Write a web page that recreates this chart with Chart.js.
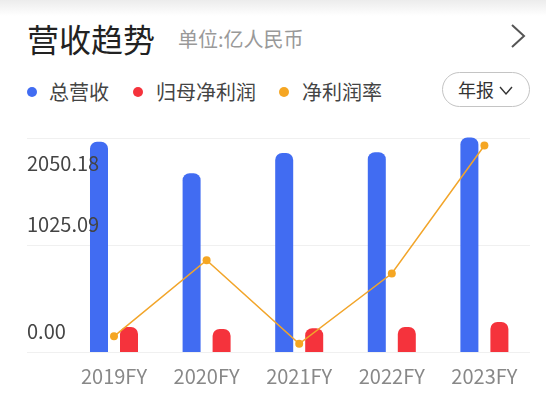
<!DOCTYPE html>
<html>
<head>
<meta charset="utf-8">
<script src="https://cdn.jsdelivr.net/npm/chart.js@4/dist/chart.umd.min.js"></script>
<style>
  html, body { margin:0; padding:0; background:#fff; }
  body { width:546px; height:415px; position:relative; overflow:hidden;
         font-family:"Noto Sans CJK SC","Noto Sans",sans-serif; }
  .topshade { position:absolute; left:0; top:0; width:546px; height:16px;
              background:linear-gradient(#ececec, #ffffff); }
  .title { position:absolute; left:27px; top:16px; font-size:32px; line-height:44px; color:#222; }
  .unit { position:absolute; left:178px; top:25px; font-size:20px; line-height:28px; color:#999; }
  .arrow { position:absolute; left:508px; top:22px; }
  .legend { position:absolute; top:78px; left:0; height:28px; }
  .li { position:absolute; top:0; font-size:20px; line-height:28px; color:#444; white-space:nowrap; }
  .dot { position:absolute; width:10px; height:10px; border-radius:5px; top:9px; }
  .pill { position:absolute; left:442px; top:72px; width:86px; height:33px; border:1px solid #c4c4c4;
          border-radius:18px; box-sizing:content-box; }
  .pill span { position:absolute; left:15px; top:2px; font-size:18px; line-height:29px; color:#333; }
  .pill svg { position:absolute; left:55px; top:12px; }
  canvas { position:absolute; left:0; top:0; }
</style>
</head>
<body>
<div class="topshade"></div>
<div class="title">营收趋势</div>
<div class="unit">单位:亿人民币</div>
<svg class="arrow" width="20" height="30" viewBox="0 0 20 30"><polyline points="4,3 16,14 4,25" fill="none" stroke="#555" stroke-width="2"/></svg>
<div class="legend">
  <div class="dot" style="left:27px;background:#416CF2"></div>
  <div class="li" style="left:49px">总营收</div>
  <div class="dot" style="left:133px;background:#F5333C"></div>
  <div class="li" style="left:156px">归母净利润</div>
  <div class="dot" style="left:279px;background:#F5A623"></div>
  <div class="li" style="left:302px">净利润率</div>
</div>
<div class="pill"><span>年报</span><svg width="16" height="12" viewBox="0 0 16 12"><polyline points="2,2 8,9 14,2" fill="none" stroke="#333" stroke-width="1.4"/></svg></div>
<canvas id="c" width="546" height="415"></canvas>
<script>
const categories = ['2019FY', '2020FY', '2021FY', '2022FY', '2023FY'];
const revenue = [2014.7, 1712.0, 1906.0, 1913.0, 2056.0];
const netProfit = [239.5, 220.0, 227.0, 240.0, 287.0];
const netMargin = [11.69, 12.61, 11.60, 12.45, 14.00];
const yTicks = [0, 1025.09, 2050.18];
const yTickLabels = ['0.00', '1025.09', '2050.18'];

const GRID_LEFT = 27, GRID_RIGHT = 530;

const axisPlugin = {
  id: 'axisPlugin',
  beforeDatasetsDraw(chart) {
    const ctx = chart.ctx, y = chart.scales.y;
    ctx.save();
    ctx.strokeStyle = '#F0F0F0';
    ctx.lineWidth = 1;
    yTicks.forEach(v => {
      const py = Math.round(y.getPixelForValue(v)) + 0.5;
      ctx.beginPath(); ctx.moveTo(GRID_LEFT, py); ctx.lineTo(GRID_RIGHT, py); ctx.stroke();
    });
    ctx.restore();
  },
  afterDatasetsDraw(chart) {
    const ctx = chart.ctx, x = chart.scales.x, y = chart.scales.y;
    ctx.save();
    ctx.font = '20px "Noto Sans CJK SC"';
    ctx.textBaseline = 'middle';
    ctx.fillStyle = '#444';
    ctx.textAlign = 'left';
    yTicks.forEach((v, i) => {
      const py = y.getPixelForValue(v);
      const isTop = i === yTicks.length - 1;
      ctx.fillText(yTickLabels[i], GRID_LEFT, isTop ? py + 25 : py - 21);
    });
    ctx.fillStyle = '#888';
    ctx.textAlign = 'center';
    categories.forEach((c, i) => {
      ctx.fillText(c, x.getPixelForValue(i), chart.chartArea.bottom + 24);
    });
    ctx.restore();
  }
};

new Chart(document.getElementById('c'), {
  data: {
    labels: categories,
    datasets: [
      { type: 'line', label: '净利润率', data: netMargin, yAxisID: 'y2', order: 0,
        borderColor: '#F2A52A', borderWidth: 1.5, pointRadius: 4, pointBackgroundColor: '#F5A623',
        pointBorderWidth: 0, tension: 0, clip: false },
      { type: 'bar', label: '总营收', data: revenue, yAxisID: 'y', order: 1,
        backgroundColor: '#416CF2', borderRadius: 7, borderSkipped: 'bottom',
        categoryPercentage: 0.648, barPercentage: 0.6, clip: false },
      { type: 'bar', label: '归母净利润', data: netProfit, yAxisID: 'y', order: 2,
        backgroundColor: '#F5333C', borderRadius: 7, borderSkipped: 'bottom',
        categoryPercentage: 0.648, barPercentage: 0.6, clip: false }
    ]
  },
  options: {
    responsive: false,
    animation: false,
    layout: { padding: { left: 67.7, right: 15.3, top: 138, bottom: 63 } },
    plugins: { legend: { display: false }, tooltip: { enabled: false } },
    scales: {
      x: { display: false, offset: true },
      y: { display: false, min: 0, max: 2050.18 },
      y2: { display: false, min: 11.5, max: 14.09 }
    }
  },
  plugins: [axisPlugin]
});
</script>
</body>
</html>
